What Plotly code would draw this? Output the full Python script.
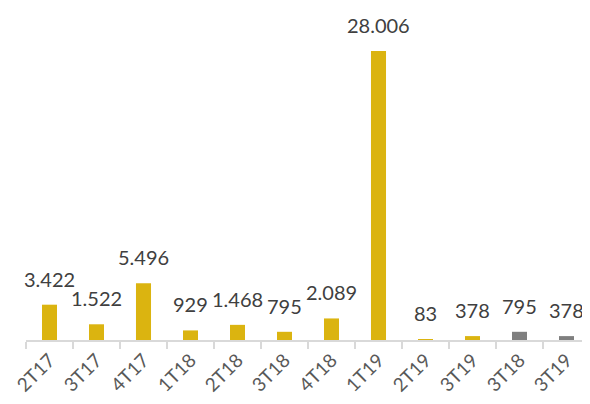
import plotly.graph_objects as go

categories = ["2T17", "3T17", "4T17", "1T18", "2T18", "3T18", "4T18", "1T19", "2T19", "3T19", "3T18", "3T19"]
values = [3422, 1522, 5496, 929, 1468, 795, 2089, 28006, 83, 378, 795, 378]
labels = ["3.422", "1.522", "5.496", "929", "1.468", "795", "2.089", "28.006", "83", "378", "795", "378"]
bar_colors = ["#DBB410"] * 10 + ["#7F7F7F"] * 2

x = list(range(len(categories)))

fig = go.Figure()
fig.add_trace(go.Bar(x=x, y=values, marker=dict(color=bar_colors, line=dict(width=0)),
                     width=0.32, hoverinfo="skip"))

for xi, v, t in zip(x, values, labels):
    fig.add_annotation(x=xi, y=v, text=t, showarrow=False, yanchor="bottom",
                       yshift=12, font=dict(size=20, color="#404040", family="Lato"))

# page offsets the figure, so it is drawn a bit smaller and shifted
fig.update_layout(
    width=582, height=388,
    margin=dict(l=18, r=0, t=4, b=56, autoexpand=False),
    paper_bgcolor="white", plot_bgcolor="white",
    showlegend=False,
    font=dict(family="Lato"),
    xaxis=dict(
        range=[-0.5, 11.5], tickmode="array", tickvals=x, ticktext=categories,
        tickangle=-45, ticks="", showgrid=False, zeroline=False, automargin=False,
        showline=True, linecolor="#D9D9D9", linewidth=1.5,
        tickfont=dict(size=19, color="#595959", family="Lato"),
        minor=dict(tickmode="linear", tick0=-0.5, dtick=1, ticks="outside",
                   ticklen=7, tickcolor="#D9D9D9", tickwidth=1.5, showgrid=False),
    ),
    yaxis=dict(range=[0, 31785], visible=False, showgrid=False, zeroline=False, automargin=False),
)

fig.write_html("out.html")
